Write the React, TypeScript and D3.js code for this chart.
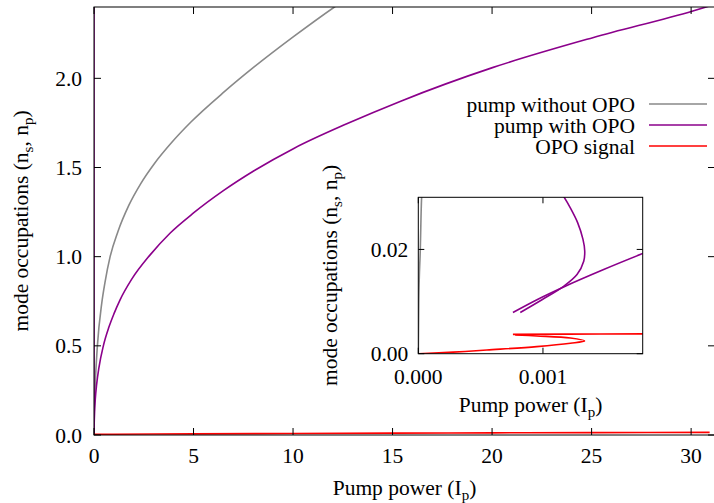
import React from "react";
import * as d3 from "d3";

// Chart size
const W = 714;
const H = 503;

// Legend / series
const seriesNames = ["pump without OPO", "pump with OPO", "OPO signal"];
const seriesColors = ["#898989", "#8b008b", "#ff0000"];

// Tick values
const xTicksMain = [0, 5, 10, 15, 20, 25, 30];
const yTicksMain = [0, 0.5, 1.0, 1.5, 2.0];
const xTicksInset = [0, 0.001];
const yTicksInset = [0, 0.02];

// Pump occupation without OPO: [pump power, occupation]
const pumpWithoutOpo: [number, number][] = [
  [0, 0], [0.000004, 0.01], [0.000016, 0.02], [0.000027, 0.03], [0.0003, 0.06],
  [0.003, 0.11], [0.03, 0.2], [0.08, 0.33], [0.17, 0.5], [0.39, 0.74], [0.55, 0.855],
  [0.81, 1.0], [1.2, 1.14], [1.76, 1.29], [2.35, 1.41], [3.02, 1.52], [3.9, 1.64],
  [4.87, 1.755], [6.55, 1.925], [8.06, 2.065], [10.04, 2.235], [12.08, 2.4], [12.6, 2.44],
];

// Pump occupation with OPO, stable branch
const pumpWithOpo: [number, number][] = [
  [0.000759, 0.00791], [0.000952, 0.01036], [0.001166, 0.0128], [0.001487, 0.01614],
  [0.0018, 0.0192], [0.0025, 0.0255], [0.004, 0.035], [0.01, 0.065], [0.03, 0.13],
  [0.067, 0.205], [0.134, 0.285], [0.25, 0.379], [0.47, 0.5], [0.75, 0.605],
  [1.0, 0.679], [1.31, 0.758], [1.88, 0.871], [2.82, 1.01], [3.83, 1.133], [5.0, 1.245],
  [6.5, 1.37], [8.06, 1.483], [10.04, 1.607], [12.7, 1.745], [15.41, 1.872],
  [20.02, 2.06], [25.06, 2.228], [30.09, 2.378], [30.93, 2.406],
];

// Pump occupation with OPO, folded branch
const pumpWithOpoFold: [number, number][] = [
  [0.000818, 0.00791], [0.000992, 0.01036], [0.001166, 0.01293], [0.001273, 0.01518],
  [0.001327, 0.01775], [0.001335, 0.01968], [0.001321, 0.02193], [0.001278, 0.02514],
  [0.001225, 0.02772], [0.001166, 0.03016], [0.00105, 0.034], [0.0009, 0.04],
  [0.0006, 0.06], [0.0003, 0.12], [0.0001, 0.4], [0.00003, 2.6],
];

// OPO signal, folded branch starting at the origin
const signalFold: [number, number][] = [
  [0, 0], [0.00028, 0.0003], [0.00055, 0.00071], [0.00095, 0.00135], [0.00122, 0.002],
  [0.001334, 0.00245], [0.00122, 0.003], [0.00095, 0.0034], [0.000777, 0.0036],
];

// OPO signal, stable branch
const signal: [number, number][] = [
  [0.000759, 0.0037], [0.0012, 0.00375], [0.0018, 0.0038], [0.01, 0.0039], [0.1, 0.0041],
  [1, 0.0045], [5, 0.0065], [10, 0.0085], [15, 0.0105], [20, 0.012], [25, 0.0135],
  [30.93, 0.015],
];

// Branches that are single-valued in pump power use a monotone spline,
// the S-shaped folds use a centripetal Catmull-Rom spline.
const curves: { data: [number, number][]; color: string; fold: boolean }[] = [
  { data: pumpWithoutOpo, color: seriesColors[0], fold: false },
  { data: pumpWithOpo, color: seriesColors[1], fold: false },
  { data: pumpWithOpoFold, color: seriesColors[1], fold: true },
  { data: signalFold, color: seriesColors[2], fold: true },
  { data: signal, color: seriesColors[2], fold: false },
];

const FONT = "'Liberation Serif', 'Times New Roman', serif";
const FS = 21.5;
const SUB = 15;

function Plot(props: {
  left: number; right: number; top: number; bottom: number;
  xDomain: [number, number]; yDomain: [number, number];
  xTicks: number[]; yTicks: number[];
  xFmt: (v: number) => string; yFmt: (v: number) => string;
  tickLen: number; clipId: string;
  xLabelY: number; yLabelX: number; tickLabelGap: number; xTickLabelY: number;
  fill?: string;
}) {
  const { left, right, top, bottom } = props;
  const x = d3.scaleLinear().domain(props.xDomain).range([left, right]);
  const y = d3.scaleLinear().domain(props.yDomain).range([bottom, top]);
  const smooth = d3
    .line<[number, number]>()
    .x((d) => x(d[0]))
    .y((d) => y(d[1]))
    .curve(d3.curveMonotoneX);
  const folded = d3
    .line<[number, number]>()
    .x((d) => x(d[0]))
    .y((d) => y(d[1]))
    .curve(d3.curveCatmullRom.alpha(0.5));
  const t = props.tickLen;
  const cy = (top + bottom) / 2;
  const cx = (left + right) / 2;
  return (
    <g>
      <defs>
        <clipPath id={props.clipId}>
          <rect x={left} y={top} width={right - left} height={bottom - top} />
        </clipPath>
      </defs>
      {props.fill && (
        <rect x={left} y={top} width={right - left} height={bottom - top} fill={props.fill} />
      )}
      <g clipPath={`url(#${props.clipId})`}>
        {curves.map((c, i) => (
          <path
            key={i}
            d={(c.fold ? folded(c.data) : smooth(c.data)) || ""}
            fill="none"
            stroke={c.color}
            strokeWidth={1.6}
          />
        ))}
      </g>
      {/* ticks on all four sides, pointing inward */}
      {props.xTicks.map((v) => (
        <g key={"xt" + v}>
          <line x1={x(v)} x2={x(v)} y1={bottom} y2={bottom - t} stroke="#000" strokeWidth={1} />
          <line x1={x(v)} x2={x(v)} y1={top} y2={top + t} stroke="#000" strokeWidth={1} />
          <text x={x(v)} y={props.xTickLabelY} textAnchor="middle" fontFamily={FONT} fontSize={FS} fill="#000">
            {props.xFmt(v)}
          </text>
        </g>
      ))}
      {props.yTicks.map((v) => (
        <g key={"yt" + v}>
          <line x1={left} x2={left + t} y1={y(v)} y2={y(v)} stroke="#000" strokeWidth={1} />
          <line x1={right} x2={right - t} y1={y(v)} y2={y(v)} stroke="#000" strokeWidth={1} />
          <text x={left - props.tickLabelGap} y={y(v)} dy="0.35em" textAnchor="end" fontFamily={FONT} fontSize={FS} fill="#000">
            {props.yFmt(v)}
          </text>
        </g>
      ))}
      <rect x={left} y={top} width={right - left} height={bottom - top} fill="none" stroke="#000" strokeWidth={1} />
      <text x={cx} y={props.xLabelY} textAnchor="middle" fontFamily={FONT} fontSize={FS} fill="#000">
        Pump power (I<tspan fontSize={SUB} dy={5}>p</tspan><tspan dy={-5}>)</tspan>
      </text>
      <text
        transform={`translate(${props.yLabelX},${cy}) rotate(-90)`}
        textAnchor="middle"
        fontFamily={FONT}
        fontSize={FS}
        fill="#000"
      >
        mode occupations (n<tspan fontSize={SUB} dy={5}>s</tspan>
        <tspan dy={-5}>, n</tspan>
        <tspan fontSize={SUB} dy={5}>p</tspan>
        <tspan dy={-5}>)</tspan>
      </text>
    </g>
  );
}

export default function App() {
  const legendTop = 104;
  const legendStep = 21;
  return (
    <svg width={W} height={H} style={{ display: "block", position: "absolute", left: 0, top: 0, background: "#fff" }}>
      <rect x={0} y={0} width={W} height={H} fill="#fff" />
      <Plot
        left={94} right={715} top={7} bottom={435}
        xDomain={[0, 31.2]} yDomain={[0, 2.4]}
        xTicks={xTicksMain} yTicks={yTicksMain}
        xFmt={(v) => d3.format("d")(v)} yFmt={(v) => d3.format(".1f")(v)}
        tickLen={7} clipId="clip-main"
        xLabelY={495} yLabelX={28} tickLabelGap={12} xTickLabelY={463}
      />
      {/* legend */}
      {seriesNames.map((name, i) => (
        <g key={name}>
          <text x={635} y={legendTop + i * legendStep} dy="0.35em" textAnchor="end" fontFamily={FONT} fontSize={FS} fill="#000">
            {name}
          </text>
          <line x1={649} x2={707} y1={legendTop + i * legendStep} y2={legendTop + i * legendStep} stroke={seriesColors[i]} strokeWidth={1.6} />
        </g>
      ))}
      <Plot
        left={418.3} right={642.7} top={197.3} bottom={353.7}
        xDomain={[0, 0.0018]} yDomain={[0, 0.03]}
        xTicks={xTicksInset} yTicks={yTicksInset}
        xFmt={(v) => d3.format(".3f")(v)} yFmt={(v) => d3.format(".2f")(v)}
        tickLen={6} clipId="clip-inset"
        xLabelY={412} yLabelX={337} tickLabelGap={10} xTickLabelY={384}
        fill="#fff"
      />
    </svg>
  );
}
